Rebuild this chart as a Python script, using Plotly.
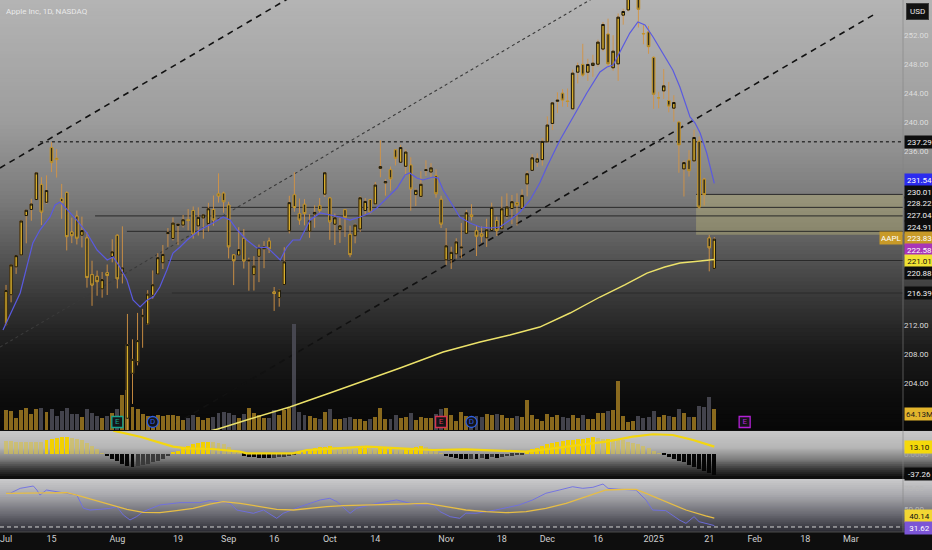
import plotly.graph_objects as go

# bar index 0 = 2024-07-01, one slot per NASDAQ session (future slots keep counting)
open_ = [212.09, 216.15, 220.00, 221.65, 227.09, 227.93, 229.30, 231.39, 228.92, 236.48, 235.00, 229.45, 230.28, 224.82, 227.01, 224.37, 224.00, 218.93, 218.70, 216.96, 219.19, 221.44,
         224.37, 219.15, 199.09, 205.30, 206.90, 213.11, 212.10, 216.07, 219.01, 220.57, 224.60, 223.92, 225.72, 225.77, 226.52, 227.79, 225.66, 226.76, 226.00, 227.92, 230.10, 230.19,
         228.55, 221.66, 221.63, 223.95, 220.82, 218.92, 221.46, 222.50, 223.58, 216.54, 215.75, 217.55, 224.99, 229.97, 227.34, 228.65, 224.93, 227.30, 228.46, 230.04,
         229.52, 225.89, 225.14, 227.90, 224.50, 224.30, 225.23, 227.78, 229.30, 228.70, 233.61, 231.60, 233.43, 236.18, 234.45, 233.89, 234.08, 229.98, 229.74, 233.32, 233.10, 232.61, 229.34,
         220.97, 220.99, 221.80, 222.61, 224.63, 227.17, 225.00, 224.55, 224.01, 225.02, 226.40, 225.25, 226.98, 228.06, 228.88, 228.06, 231.46, 233.33, 234.47, 234.81,
         237.27, 239.81, 242.87, 243.99, 242.91, 241.83, 246.89, 247.96, 246.89, 247.82, 247.99, 250.08, 252.16, 247.50, 248.04, 254.77, 255.49, 258.19, 257.83, 252.23, 252.44,
         248.93, 243.36, 244.31, 242.98, 241.92, 240.01, 233.53, 234.75, 234.64, 237.35, 232.12, 224.00, 219.79]
high = [217.51, 220.38, 221.55, 226.45, 227.85, 229.40, 233.08, 232.39, 232.64, 237.23, 236.27, 231.46, 230.44, 226.80, 227.78, 226.94, 224.80, 220.85, 219.49, 219.30, 220.33, 223.82,
        224.48, 225.60, 213.50, 209.99, 213.64, 214.20, 216.78, 219.51, 221.89, 223.03, 225.35, 226.83, 225.99, 227.17, 227.98, 228.34, 228.22, 227.28, 228.85, 229.86, 232.92, 230.40,
        229.00, 221.78, 225.48, 225.24, 221.27, 221.48, 223.09, 223.55, 224.04, 217.22, 216.90, 222.71, 229.82, 233.09, 229.45, 229.35, 227.29, 228.50, 229.52, 233.00,
        229.65, 227.37, 226.81, 228.00, 225.69, 225.98, 229.75, 229.50, 229.41, 231.73, 237.49, 232.12, 233.85, 236.18, 236.85, 236.22, 235.14, 230.82, 233.22, 234.73, 234.33, 233.47, 229.83,
        225.35, 222.79, 223.95, 226.07, 227.88, 228.66, 225.70, 225.59, 226.65, 228.87, 226.92, 229.74, 230.16, 229.93, 230.16, 230.72, 233.25, 235.57, 235.69, 237.81,
        240.79, 242.76, 244.11, 244.54, 244.63, 247.24, 248.21, 250.80, 248.74, 249.29, 251.38, 253.83, 254.28, 252.00, 255.00, 255.65, 258.21, 260.10, 258.70, 253.50, 253.28,
        249.10, 244.18, 247.33, 245.55, 243.71, 240.16, 234.67, 236.12, 238.96, 238.01, 232.29, 224.42, 224.12]
low = [211.92, 215.10, 219.03, 221.65, 223.25, 226.37, 229.25, 225.77, 228.68, 233.09, 232.33, 226.64, 222.27, 223.28, 223.09, 222.68, 217.13, 214.62, 216.01, 215.75, 216.12, 220.63,
       217.02, 217.71, 196.00, 201.07, 206.39, 208.83, 211.97, 215.60, 219.01, 219.70, 222.76, 223.65, 223.04, 225.45, 225.05, 223.90, 224.33, 223.89, 224.89, 225.68, 228.88, 227.48,
       221.17, 217.48, 221.52, 219.77, 216.71, 216.73, 217.89, 219.82, 221.91, 213.92, 214.50, 217.54, 224.63, 227.62, 225.81, 225.73, 224.02, 225.41, 227.30, 229.65,
       223.74, 223.02, 223.32, 224.13, 221.33, 223.25, 224.83, 227.17, 227.34, 228.60, 232.37, 229.84, 230.52, 234.01, 234.45, 232.60, 227.76, 228.41, 229.57, 232.55, 232.32, 229.55, 225.37,
       220.27, 219.71, 221.14, 221.19, 224.57, 226.41, 221.50, 223.36, 222.76, 225.00, 224.27, 225.17, 226.66, 225.89, 225.71, 228.06, 229.74, 233.33, 233.81, 233.97,
       237.16, 238.90, 241.25, 242.13, 242.08, 241.75, 245.34, 246.26, 245.68, 246.24, 247.65, 249.78, 247.74, 247.09, 245.69, 253.45, 255.29, 257.63, 253.06, 250.75, 249.43,
       241.82, 241.89, 243.20, 241.35, 240.05, 233.00, 229.72, 232.47, 234.43, 228.03, 228.48, 219.38, 219.79]
close = [216.75, 220.27, 221.55, 226.34, 227.82, 228.68, 232.98, 227.57, 230.54, 234.40, 234.82, 228.88, 224.18, 224.31, 223.96, 225.01, 218.54, 217.49, 217.96, 218.24, 218.80, 222.08,
         218.36, 219.86, 209.27, 207.23, 209.82, 213.31, 216.24, 217.53, 221.27, 221.72, 224.72, 226.05, 225.89, 226.51, 226.40, 224.53, 226.84, 227.18, 228.03, 226.49, 229.79, 229.00,
         222.77, 220.85, 222.38, 220.82, 220.91, 220.11, 222.66, 222.77, 222.50, 216.32, 216.79, 220.69, 228.87, 228.20, 226.47, 227.37, 226.37, 227.52, 227.79, 233.00,
         226.21, 226.78, 225.67, 226.80, 221.69, 225.77, 229.54, 229.04, 227.55, 231.30, 233.85, 231.78, 232.15, 235.00, 236.48, 235.86, 230.76, 230.57, 231.41, 233.40, 233.67, 230.10, 225.91,
         222.91, 222.01, 223.45, 222.72, 227.48, 226.96, 224.23, 224.23, 225.12, 228.22, 225.00, 228.02, 228.28, 229.00, 228.52, 229.87, 232.87, 235.06, 234.93, 237.33,
         239.59, 242.65, 243.01, 243.04, 242.84, 246.75, 247.77, 246.49, 247.96, 248.13, 251.04, 253.48, 248.05, 249.79, 254.49, 255.27, 258.20, 259.02, 255.59, 252.20, 250.42,
         243.85, 243.36, 245.00, 242.21, 242.70, 236.85, 234.40, 233.28, 237.87, 228.26, 229.98, 222.64, 223.83]
volume = [60.4, 58.0, 37.4, 60.4, 67.2, 48.1, 62.6, 64.7, 53.0, 62.6, 43.2, 57.3, 66.0, 49.2, 48.2, 39.9, 61.8, 51.4, 41.6, 36.3, 41.6, 50.0,
          62.5, 105.6, 119.5, 69.4, 63.5, 47.2, 42.2, 38.0, 44.2, 41.9, 46.4, 44.3, 40.7, 30.3, 34.8, 43.7, 38.7, 30.6, 35.9, 38.1, 51.9, 52.9,
          50.2, 43.8, 36.6, 48.4, 67.2, 51.6, 44.6, 37.5, 36.8, 59.4, 45.5, 59.9, 66.8, 318.7, 54.1, 43.6, 42.3, 36.6, 34.0, 54.8,
          63.3, 32.9, 34.0, 37.3, 39.5, 31.9, 33.6, 28.2, 31.8, 39.9, 64.8, 34.1, 32.9, 46.4, 36.3, 38.8, 52.3, 31.1, 38.8, 36.1, 35.4, 47.1, 64.4,
          65.3, 44.9, 28.1, 54.6, 42.1, 38.3, 42.0, 40.4, 48.6, 44.9, 47.9, 44.7, 36.2, 35.2, 42.1, 38.2, 90.2, 45.9, 33.5, 28.5,
          48.1, 38.9, 44.4, 40.0, 36.9, 44.6, 36.9, 45.2, 32.8, 33.2, 51.7, 51.4, 56.8, 60.9, 147.5, 40.9, 23.2, 27.2, 42.4, 35.6, 39.5,
          55.7, 40.2, 45.0, 40.9, 37.6, 61.7, 49.6, 39.4, 39.8, 71.8, 68.5, 98.1, 64.13]

tick_idx = [0, 9, 22, 34, 44, 53, 64, 73, 87, 98, 107, 117, 128, 139, 148, 158, 167]
tick_text = ['Jul', '15', 'Aug', '19', 'Sep', '16', 'Oct', '14', 'Nov', '18', 'Dec', '16', '2025', '21', 'Feb', '18', 'Mar']
price_ticks = list(range(200, 256, 4))

# fast EMA (blue) and 200 SMA (yellow)
ema_x = [-0.6, 2.8, 5.3, 6.7, 8.7, 9.7, 10.7, 12.1, 14.0, 16.0, 18.0, 20.0, 21.2, 22.5, 23.9, 25.1, 26.5, 27.9, 29.1, 30.4,
         31.8, 33.0, 34.4, 35.8, 38.3, 40.9, 42.9, 44.3, 45.7, 47.6, 49.6, 51.6, 52.8, 54.2, 55.5, 56.7, 58.1, 60.1, 62.1, 64.0,
         66.0, 68.0, 70.0, 71.9, 73.3, 75.3, 77.3, 78.9, 79.8, 81.2, 82.4, 84.4, 85.4, 86.4, 87.8, 89.7, 91.7, 93.7, 95.7, 97.6,
         99.6, 101.6, 103.6, 105.5, 106.9, 109.5, 112.1, 114.8, 117.4, 118.8, 120.0, 121.3, 123.3, 124.9, 126.3, 127.9, 129.8,
         131.8, 133.2, 134.6, 135.2, 136.2, 137.2, 138.5, 140.0]
ema_y = [211.28, 216.39, 223.30, 225.09, 226.89, 228.55, 228.96, 227.85, 226.47, 224.68, 222.33, 220.95, 221.36, 219.98, 218.19,
         215.42, 214.46, 215.42, 215.84, 217.22, 219.57, 221.92, 222.74, 223.71, 225.09, 226.06, 226.89, 226.47, 225.09, 223.71,
         222.61, 222.74, 221.92, 220.95, 222.74, 223.71, 223.71, 226.47, 227.44, 227.16, 226.89, 226.47, 226.89, 227.44, 228.13,
         229.51, 230.89, 232.69, 232.97, 232.27, 232.00, 232.41, 232.27, 230.62, 228.96, 226.89, 226.06, 225.51, 225.37, 225.51,
         226.47, 227.58, 229.24, 231.58, 233.79, 237.52, 240.70, 244.01, 246.92, 247.61, 247.88, 249.54, 252.30, 253.82, 253.41,
         251.75, 249.54, 247.19, 244.84, 242.08, 240.70, 239.87, 238.49, 235.73, 231.54]
sma_x = [39.3, 41.9, 48.2, 56.1, 64.0, 71.3, 77.9, 86.4, 93.7, 99.6, 105.5, 111.5, 117.4, 122.3, 126.7, 130.2, 133.2, 137.2, 140.0]
sma_y = [197.19, 197.61, 198.99, 200.65, 202.58, 204.37, 206.03, 208.24, 209.62, 210.59, 211.69, 213.63, 215.84, 217.50, 219.15,
         219.98, 220.53, 220.81, 221.01]

# oscillator pane
macd_hist = [23, 22.5, 22, 21.8, 21.5, 21.3, 21, 20.8, 25, 27,
             28.5, 29.5, 29.8, 29, 27, 24, 20, 15, 8, 2,
             -4, -9, -13, -17, -21, -22.5, -22, -20, -18, -15,
             -12, -8, -4, 3, 6, 10, 14, 17, 19, 21,
             22, 21.5, 20, 17, 12, 7, 2, -3, -5, -6,
             -7, -7.5, -7.7, -7, -6, -5, -3.5, -1.5, 3, 6,
             8, 10, 12, 13, 13.5, 12, 11, 10.5, 10, 9.5,
             10.5, 11, 10, 9.5, 10, 10.5, 11, 10, 9.5, 10,
             11, 13, 13.5, 12, 9, 5, 1, -4, -6, -7.5,
             -8, -9, -8, -9, -7, -8, -6, -7, -5, -4,
             -3, -2, -1, 4, 8, 11, 14, 17, 19, 21,
             23, 24.5, 25.5, 26, 27.5, 28, 30.5, 28, 27, 27.5,
             26, 25, 24, 22, 20, 18, 15, 11, 6, 1,
             -2, -5, -8, -12, -15, -19, -23, -27, -31, -34,
             -37.26]
macd_x = [21.2, 26.5, 33.0, 35.8, 40.9, 46.2, 47.6, 56.7, 59.5, 64.6, 71.3, 77.9, 84.4, 90.9, 97.4, 102.8, 108.1, 113.2,
          118.6, 123.9, 127.9, 131.8, 135.8, 140.0]
macd_y = [41.3, 30.7, 13.0, 10.1, 8.9, 4.1, 1.2, 1.2, 7.1, 10.1, 13.0, 10.1, 7.1, 8.3, 5.9, 4.1, 10.1, 16.0, 21.8, 30.7, 35.0,
          33.7, 24.8, 13.10]

# RSI pane
rsi_x = [0, 0.8, 2.8, 5.4, 6.1, 6.7, 8.0, 10.0, 12.0, 14.0, 15.3, 16.6, 18.6, 20.6, 21.9, 23.2, 24.5, 25.8, 27.1, 30.4,
         34.4, 38.3, 40.3, 44.3, 45.6, 48.9, 50.9, 53.5, 54.8, 58.1, 62.1, 64.0, 65.4, 68.0, 69.3, 73.3, 77.2, 81.2, 84.5, 85.8,
         87.8, 89.7, 90.9, 92.9, 96.8, 101.4, 104.1, 106.7, 109.4, 112.0, 114.0, 116.0, 118.0, 119.0, 121.2, 124.5, 126.5,
         127.8, 130.4, 133.1, 134.4, 136.0, 137.0, 138.3, 140.0]
rsi_y = [68.9, 68.9, 74.6, 77.3, 72.7, 66.9, 72.7, 70.8, 68.9, 66.9, 51.6, 49.6, 50.4, 51.6, 53.4, 43.8, 38.1, 41.9, 47.7, 55.4,
         58.1, 58.1, 60.4, 57.3, 49.6, 45.8, 49.6, 40.0, 45.8, 53.4, 61.2, 63.1, 59.2, 45.8, 51.6, 57.3, 61.2, 55.4, 55.4, 47.7,
         41.9, 40.0, 46.0, 45.8, 49.6, 55.4, 61.2, 68.9, 72.7, 76.5, 74.6, 75.8, 79.6, 74.6, 73.5, 72.7, 61.2, 49.6, 48.9, 38.1,
         34.2, 41.9, 36.1, 34.2, 31.62]
rsi_ma_x = [0, 6.7, 12.0, 14.0, 17.3, 20.6, 23.9, 27.1, 30.4, 33.7, 37.0, 40.3, 42.9, 46.3, 50.2, 53.5, 56.8, 60.1, 63.4, 66.7,
            71.3, 75.2, 79.2, 83.1, 86.4, 90.9, 94.9, 98.8, 102.8, 106.7, 110.7, 114.6, 118.6, 122.5, 124.5, 126.5, 130.4,
            134.4, 138.3, 140.0]
rsi_ma_y = [68.9, 68.9, 69.6, 66.9, 61.2, 55.4, 50.4, 46.9, 46.5, 48.9, 51.6, 56.5, 59.2, 57.3, 53.4, 50.4, 49.6, 51.6, 53.4,
            54.6, 55.4, 55.8, 56.1, 57.3, 54.2, 49.6, 47.7, 46.5, 47.7, 51.6, 57.3, 65.0, 72.7, 73.5, 73.5, 68.9, 59.2, 49.6,
            42.7, 40.14]
rsi_floor = 30

# drawings
level_price = [237.29, 228.22, 227.04, 224.91, 220.88, 216.39]
level_from = [6.7, 38.7, 17.6, 23.9, 32.0, 32.8]
zone_from, zone_low, zone_high = 136.4, 224.42, 230.01
trend_x0 = [-1.19, -1.19, 33.4]
trend_y0 = [233.66, 208.93, 198.30]
trend_x1 = [60.0, 120.0, 171.75]
trend_y1 = [258.79, 258.74, 254.93]
other_tag = 222.58

event_idx = [22, 29, 86, 92, 146]
event_tag = ['E', 'D', 'E', 'D', 'E']
event_color = ['#19a58e', '#2f5fe0', '#d8344f', '#2f5fe0', '#b321d6']

# ---- geometry (pixels of the 932x550 page) ----
X_RANGE = [-1.19, 177.3]
PRICE_RANGE = [197.47, 256.86]
MACD_RANGE = [-42.6, 40.8]
RSI_RANGE = [24.2, 85.4]
PLOT_H = 532
MAIN_PX, MACD_PX, RSI_PX = 430, 47, 53
VOL_PX_PER_M = 0.3333
main_dom = [1 - 430 / PLOT_H, 1]
macd_dom = [1 - 478 / PLOT_H, 1 - 431 / PLOT_H]
rsi_dom = [0, 1 - 479 / PLOT_H]
XR = 932 / 903  # paper x at the right edge of the page
TAG_GAP = 11.6


def gradient(dom, stops, n):
    """horizontal bands faking the TradingView gradient background"""
    out = []
    lo, hi = dom
    for k in range(n):
        t = (k + 0.5) / n
        for (t0, c0), (t1, c1) in zip(stops, stops[1:]):
            if t0 <= t <= t1:
                f = (t - t0) / (t1 - t0)
                c = [round(a + (b - a) * f) for a, b in zip(c0, c1)]
                break
        top = hi - (hi - lo) * k / n
        bot = hi - (hi - lo) * (k + 1) / n
        out.append(dict(type='rect', xref='paper', yref='paper', x0=0, x1=XR,
                        y0=max(lo, bot - 0.0015), y1=top, layer='below',
                        fillcolor='rgb(%d,%d,%d)' % tuple(c), line=dict(width=0)))
    return out


def stack(vals, rng, px, gap=TAG_GAP):
    """push price-scale tags apart like TradingView does"""
    lo, hi = rng
    k = px / (hi - lo)
    order = sorted(range(len(vals)), key=lambda i: -vals[i])
    groups = []
    for i in order:
        groups.append([[i], (hi - vals[i]) * k])
        while len(groups) > 1:
            (m1, s1), (m2, s2) = groups[-2], groups[-1]
            if s1 + len(m1) * gap <= s2:
                break
            m = m1 + m2
            mean = sum((hi - vals[j]) * k for j in m) / len(m)
            groups[-2:] = [[m, mean - (len(m) - 1) * gap / 2]]
    pos = [0] * len(vals)
    for m, s in groups:
        for n, j in enumerate(m):
            pos[j] = hi - (s + n * gap) / k
    return pos


def tag(v, y, yref, bg, fg, text=None):
    return dict(x=1, xref='paper', xanchor='left', xshift=1, y=y, yref=yref, yanchor='middle',
                text=text or f'{v:.2f}', showarrow=False, bgcolor=bg, borderpad=1, width=27, height=10,
                font=dict(size=8, color=fg))


idx = list(range(len(close)))
fig = go.Figure()

# volume on the base axis so candles sit on top of it
vol_col = ['rgba(170,130,35,0.8)' if c >= o else 'rgba(78,78,88,0.85)' for o, c in zip(open_, close)]
fig.add_trace(go.Bar(x=idx, y=volume, marker=dict(color=vol_col, line=dict(width=0)), width=0.78,
                     yaxis='y', hoverinfo='skip'))
fig.add_trace(go.Scatter(x=event_idx, y=[24] * len(event_idx), mode='markers+text', text=event_tag,
                         textposition='middle center', textfont=dict(size=8, color=event_color),
                         marker=dict(symbol=['square' if t == 'E' else 'circle' for t in event_tag], size=11,
                                     color='#141418', line=dict(color=event_color, width=1.3)),
                         yaxis='y', hoverinfo='skip'))

# candles: wick layer first, then the bodies
fig.add_trace(go.Candlestick(x=idx, open=open_, high=high, low=low, close=close, yaxis='y2',
                             increasing=dict(line=dict(color='rgba(212,148,68,0.9)', width=1), fillcolor='rgba(212,148,68,0.9)'),
                             decreasing=dict(line=dict(color='rgba(212,148,68,0.9)', width=1), fillcolor='rgba(212,148,68,0.9)'),
                             hoverinfo='skip'))
body_hi = [max(o, c) for o, c in zip(open_, close)]
body_lo = [min(o, c) for o, c in zip(open_, close)]
fig.add_trace(go.Candlestick(x=idx, open=open_, high=body_hi, low=body_lo, close=close, yaxis='y2',
                             increasing=dict(line=dict(color='#17160c', width=1), fillcolor='#d9ad2b'),
                             decreasing=dict(line=dict(color='#bf952c', width=1), fillcolor='#2d2b1d'),
                             hoverinfo='skip'))
fig.add_trace(go.Scatter(x=ema_x, y=ema_y, mode='lines', line=dict(color='#5a5ae0', width=1.2), yaxis='y2', hoverinfo='skip'))
fig.add_trace(go.Scatter(x=sma_x, y=sma_y, mode='lines', line=dict(color='#ece26a', width=1.4), yaxis='y2', hoverinfo='skip'))

# oscillator
hist_col = []
for i, v in enumerate(macd_hist):
    prev = macd_hist[i - 1] if i else v
    if v >= 0:
        hist_col.append('#f2d000' if v > prev else 'rgba(212,192,80,0.65)')
    else:
        hist_col.append('#050505' if v < prev else '#3a3a3a')
fig.add_trace(go.Bar(x=idx, y=macd_hist, marker=dict(color=hist_col, line=dict(width=0)), width=0.78,
                     yaxis='y3', hoverinfo='skip'))
fig.add_trace(go.Scatter(x=macd_x, y=macd_y, mode='lines', line=dict(color='#f3d60f', width=2.2), yaxis='y3', hoverinfo='skip'))

# RSI
fig.add_trace(go.Scatter(x=rsi_x, y=rsi_y, mode='lines', line=dict(color='rgba(110,110,230,0.9)', width=1), yaxis='y4', hoverinfo='skip'))
fig.add_trace(go.Scatter(x=rsi_ma_x, y=rsi_ma_y, mode='lines', line=dict(color='#e6bd45', width=1.3), yaxis='y4', hoverinfo='skip'))

# backgrounds
shapes = []
shapes += gradient(main_dom, [(0, (180, 180, 180)), (0.28, (157, 157, 157)), (0.465, (122, 122, 122)), (0.6, (84, 84, 84)),
                              (0.7, (54, 54, 54)), (0.81, (27, 27, 27)), (0.93, (12, 12, 12)), (1, (7, 7, 7))], 110)
shapes += gradient(macd_dom, [(0, (200, 200, 200)), (0.35, (182, 182, 182)), (0.6, (125, 125, 125)), (0.8, (58, 58, 58)),
                              (1, (8, 8, 8))], 24)
shapes += gradient(rsi_dom, [(0, (202, 202, 204)), (0.3, (170, 170, 174)), (0.65, (108, 108, 116)), (1, (42, 42, 50))], 26)

# drawings on the price pane
shapes.append(dict(type='rect', xref='x', yref='y2', x0=zone_from, x1=X_RANGE[1], y0=zone_low, y1=zone_high,
                   fillcolor='rgba(196,190,120,0.38)', line=dict(width=0), layer='below'))
shapes.append(dict(type='line', xref='x', yref='y2', x0=zone_from, x1=X_RANGE[1], y0=zone_high, y1=zone_high,
                   line=dict(color='#2a2a2a', width=1), layer='below'))
for i, (p, x0) in enumerate(zip(level_price, level_from)):
    shapes.append(dict(type='line', xref='x', yref='y2', x0=x0, x1=X_RANGE[1], y0=p, y1=p, layer='below',
                       line=dict(color='#333333' if i == 0 else '#2a2a2a', width=1.6 if i == 0 else 1,
                                 dash='dot' if i == 0 else 'solid')))
for i in range(len(trend_x0)):
    shapes.append(dict(type='line', xref='x', yref='y2', x0=trend_x0[i], x1=trend_x1[i], y0=trend_y0[i], y1=trend_y1[i],
                       layer='below', line=dict(color='#3a3a3a' if i == 1 else '#111111', width=1.1 if i == 1 else 1.6,
                                                dash='3px,3px' if i == 1 else '6px,5px')))
shapes.append(dict(type='line', xref='x', yref='y4', x0=X_RANGE[0], x1=X_RANGE[1], y0=rsi_floor, y1=rsi_floor,
                   line=dict(color='rgba(235,235,235,0.85)', width=1, dash='4px,3px')))
shapes.append(dict(type='line', xref='paper', yref='paper', x0=1, x1=1, y0=0, y1=1,
                   line=dict(color='rgba(130,130,130,0.6)', width=1)))
shapes.append(dict(type='line', xref='paper', yref='paper', x0=0, x1=XR, y0=0, y1=0,
                   line=dict(color='#4a4a4a', width=1)))

# price scale tags
main_vals = [level_price[0], ema_y[-1], zone_high] + level_price[1:4] + [close[-1], other_tag, sma_y[-1]] + level_price[4:]
main_bg = ['#0d0d0d', '#2b2bef', '#0d0d0d', '#0d0d0d', '#0d0d0d', '#0d0d0d', '#c89a28', '#a834b8', '#f0e233', '#0d0d0d', '#0d0d0d']
main_fg = ['#f2f2f2', '#ffffff', '#f2f2f2', '#f2f2f2', '#f2f2f2', '#f2f2f2', '#ffffff', '#ffffff', '#111111', '#f2f2f2', '#f2f2f2']
main_pos = stack(main_vals, PRICE_RANGE, MAIN_PX)
ann = [tag(v, y, 'y2', b, f) for v, y, b, f in zip(main_vals, main_pos, main_bg, main_fg)]
ann.append(dict(x=1, xref='paper', xanchor='right', y=main_pos[6], yref='y2', yanchor='middle', text='AAPL',
                showarrow=False, bgcolor='#c89a28', borderpad=1, height=10, font=dict(size=8, color='#ffffff')))
VOL_TAG_SHIFT = -5.5
ann.append(tag(volume[-1], volume[-1], 'y', '#e3b52c', '#1a1a1a', f'{volume[-1]:.2f}M'))
ann[-1]['yshift'] = VOL_TAG_SHIFT

# price ticks that sit completely under a tag are left out, as the tags hide them anyway
k_main = MAIN_PX / (PRICE_RANGE[1] - PRICE_RANGE[0])
tag_px = [(PRICE_RANGE[1] - y) * k_main for y in main_pos]
tag_px.append(MAIN_PX - volume[-1] * VOL_PX_PER_M - VOL_TAG_SHIFT)
shown_ticks = [t for t in price_ticks
               if min(abs((PRICE_RANGE[1] - t) * k_main - p) for p in tag_px) > TAG_GAP / 2]

macd_vals = [macd_y[-1], macd_hist[-1]]
macd_pos = stack(macd_vals, MACD_RANGE, MACD_PX)
ann.append(tag(macd_vals[0], macd_pos[0], 'y3', '#f5d90a', '#111111'))
ann.append(tag(macd_vals[1], macd_pos[1] + 2, 'y3', '#0a0a0a', '#eeeeee'))

rsi_vals = [rsi_ma_y[-1], rsi_y[-1]]
rsi_pos = stack(rsi_vals, RSI_RANGE, RSI_PX)
ann.append(tag(rsi_vals[0], rsi_pos[0], 'y4', '#f2d633', '#111111'))
ann.append(tag(rsi_vals[1], rsi_pos[1], 'y4', '#7b55d6', '#ffffff'))

ann.append(dict(x=1, xref='paper', xanchor='left', xshift=3, y=1, yref='paper', yanchor='top', yshift=-3,
                text='USD', showarrow=False, bgcolor='#121212', bordercolor='#3c3c3c', borderwidth=1, borderpad=3,
                font=dict(size=8, color='#e8e8e8')))
ann.append(dict(x=0, xref='paper', xanchor='left', xshift=4, y=1, yref='paper', yanchor='top', yshift=-5,
                text='Apple Inc, 1D, NASDAQ', showarrow=False, font=dict(size=8, color='rgba(245,245,245,0.85)')))

axis_common = dict(showgrid=False, zeroline=False, showline=False, ticks='', side='right')
fig.update_layout(
    template='none', width=932, height=550,
    margin=dict(l=0, r=29, t=0, b=18),
    paper_bgcolor='#0e0e0e', plot_bgcolor='rgba(0,0,0,0)',
    showlegend=False, hovermode=False, bargap=0,
    font=dict(family='Roboto, Liberation Sans, sans-serif', size=8, color='#d8d8d8'),
    xaxis=dict(range=X_RANGE, anchor='y4', tickvals=tick_idx, ticktext=tick_text, showgrid=False,
               zeroline=False, showline=False, ticks='', tickfont=dict(size=9, color='#cfcfcf'),
               ticklabeloverflow='allow', rangeslider=dict(visible=False)),
    yaxis=dict(domain=main_dom, range=[0, MAIN_PX / VOL_PX_PER_M], visible=False, fixedrange=True),
    yaxis2=dict(overlaying='y', range=PRICE_RANGE, tickvals=shown_ticks,
                ticktext=[f'{v:.2f}' for v in shown_ticks], tickfont=dict(size=8, color='#dcdcdc'),
                anchor='x', **axis_common),
    yaxis3=dict(domain=macd_dom, range=MACD_RANGE, tickvals=[0], ticktext=['0.0000'],
                tickfont=dict(size=8, color='#a8a8a8'), anchor='x', **axis_common),
    yaxis4=dict(domain=rsi_dom, range=RSI_RANGE, tickvals=[50, 75], ticktext=['50.00', '75.00'],
                tickfont=dict(size=8, color='#b8b8b8'), anchor='x', **axis_common),
    shapes=shapes, annotations=ann,
)

# the page is photographed edge to edge, so drop the browser's default body margin
fig.write_html("out.html", config=dict(displayModeBar=False),
               post_script="document.body.style.margin='0';document.body.style.overflow='hidden';")
